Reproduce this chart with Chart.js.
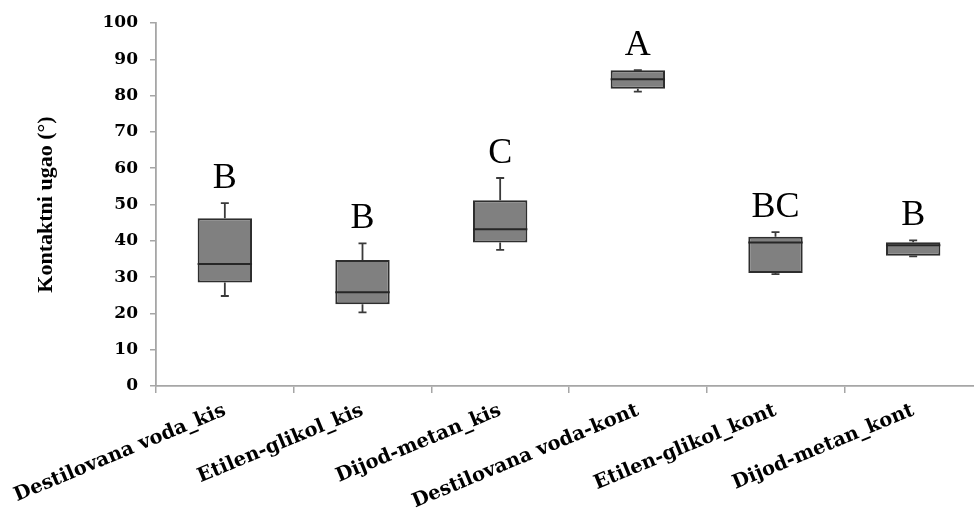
<!DOCTYPE html>
<html>
<head>
<meta charset="utf-8">
<script src="https://cdn.jsdelivr.net/npm/chart.js@4.4.1/dist/chart.umd.min.js"></script>
<style>
  html, body { margin: 0; padding: 0; background: #ffffff; overflow: hidden; }
  #wrap { width: 974px; height: 510px; position: relative; overflow: hidden; }
</style>
</head>
<body>
<div id="wrap"><canvas id="c" width="982" height="510"></canvas></div>
<script>
// ---- data ----
const categories = ['Destilovana voda_kis', 'Etilen-glikol_kis', 'Dijod-metan_kis',
                    'Destilovana voda-kont', 'Etilen-glikol_kont', 'Dijod-metan_kont'];
const minVals = [24.8, 20.3, 37.5, 81.1, 30.8, 35.7];
const q1Vals  = [28.5, 22.5, 39.5, 81.9, 31.1, 35.9];
const medVals = [33.6, 25.8, 43.2, 84.5, 39.5, 38.8];
const q3Vals  = [46.2, 34.7, 51.2, 87.0, 41.1, 39.6];
const maxVals = [50.4, 39.3, 57.3, 87.0, 42.4, 40.1];
const groupLetters = ['B', 'B', 'C', 'A', 'BC', 'B'];
const yTicks = [0, 10, 20, 30, 40, 50, 60, 70, 80, 90, 100];
const yTitle = 'Kontaktni ugao (\u00B0)';

const boxData = categories.map((_, i) => [q1Vals[i], q3Vals[i]]);

const boxPlotPlugin = {
  id: 'boxPlotExtras',
  afterDatasetsDraw(chart) {
    const ctx = chart.ctx;
    const ys = chart.scales.y;
    const meta = chart.getDatasetMeta(0);
    ctx.save();
    meta.data.forEach((bar, i) => {
      const x = bar.x;
      const half = bar.width / 2;
      const yMin = ys.getPixelForValue(minVals[i]);
      const yQ1 = ys.getPixelForValue(q1Vals[i]);
      const yMed = ys.getPixelForValue(medVals[i]);
      const yQ3 = ys.getPixelForValue(q3Vals[i]);
      const yMax = ys.getPixelForValue(maxVals[i]);
      ctx.strokeStyle = '#3a3a3a';
      ctx.lineWidth = 1.8;
      ctx.beginPath();
      ctx.moveTo(x, yQ3); ctx.lineTo(x, yMax);
      ctx.moveTo(x - 4, yMax); ctx.lineTo(x + 4, yMax);
      ctx.moveTo(x, yQ1); ctx.lineTo(x, yMin);
      ctx.moveTo(x - 4, yMin); ctx.lineTo(x + 4, yMin);
      ctx.stroke();
      ctx.lineWidth = 2;
      ctx.strokeStyle = '#262626';
      ctx.beginPath();
      ctx.moveTo(x - half, yMed); ctx.lineTo(x + half, yMed);
      ctx.stroke();
      ctx.fillStyle = '#000000';
      ctx.font = '36px "Liberation Serif", "Times New Roman", serif';
      ctx.textAlign = 'center';
      ctx.textBaseline = 'alphabetic';
      ctx.fillText(groupLetters[i], x, Math.min(yMax, yQ3) - 15);
    });
    ctx.restore();
  }
};

new Chart(document.getElementById('c'), {
  type: 'bar',
  data: {
    labels: categories,
    datasets: [{
      data: boxData,
      backgroundColor: '#808080',
      borderColor: '#2e2e2e',
      borderWidth: 2,
      borderSkipped: false,
      categoryPercentage: 1.0,
      barPercentage: 0.395
    }]
  },
  options: {
    responsive: false,
    animation: false,
    devicePixelRatio: 1,
    layout: { padding: { top: 23, right: 0, bottom: 0, left: 0 } },
    plugins: {
      legend: { display: false },
      tooltip: { enabled: false }
    },
    scales: {
      x: {
        offset: true,
        grid: {
          display: true,
          offset: true,
          drawOnChartArea: false,
          drawTicks: true,
          tickLength: 7,
          color: '#a6a6a6',
          lineWidth: 1.5
        },
        border: { display: true, color: '#a6a6a6', width: 1.8 },
        ticks: {
          autoSkip: false,
          minRotation: 22.5,
          maxRotation: 22.5,
          padding: 6,
          color: '#000000',
          font: { family: '"DejaVu Serif", serif', weight: 'bold', size: 19.5 }
        },
        afterFit(scale) {
          scale.height = 124;
          scale.paddingLeft = 0;
          scale.paddingRight = 0;
        }
      },
      y: {
        min: 0,
        max: 100,
        afterBuildTicks(scale) { scale.ticks = yTicks.map(v => ({ value: v })); },
        grid: {
          display: true,
          drawOnChartArea: false,
          drawTicks: true,
          tickLength: 6,
          color: '#a6a6a6',
          lineWidth: 1.5
        },
        border: { display: true, color: '#a6a6a6', width: 1.8 },
        ticks: {
          padding: 12,
          color: '#000000',
          font: { family: '"DejaVu Serif", serif', weight: 'bold', size: 17 }
        },
        title: {
          display: true,
          text: yTitle,
          color: '#000000',
          padding: { top: 33, bottom: 0 },
          font: { family: '"Liberation Serif", "Times New Roman", serif', weight: 'bold', size: 22 }
        },
        afterFit(scale) { scale.width = 156; }
      }
    }
  },
  plugins: [boxPlotPlugin]
});
</script>
</body>
</html>
